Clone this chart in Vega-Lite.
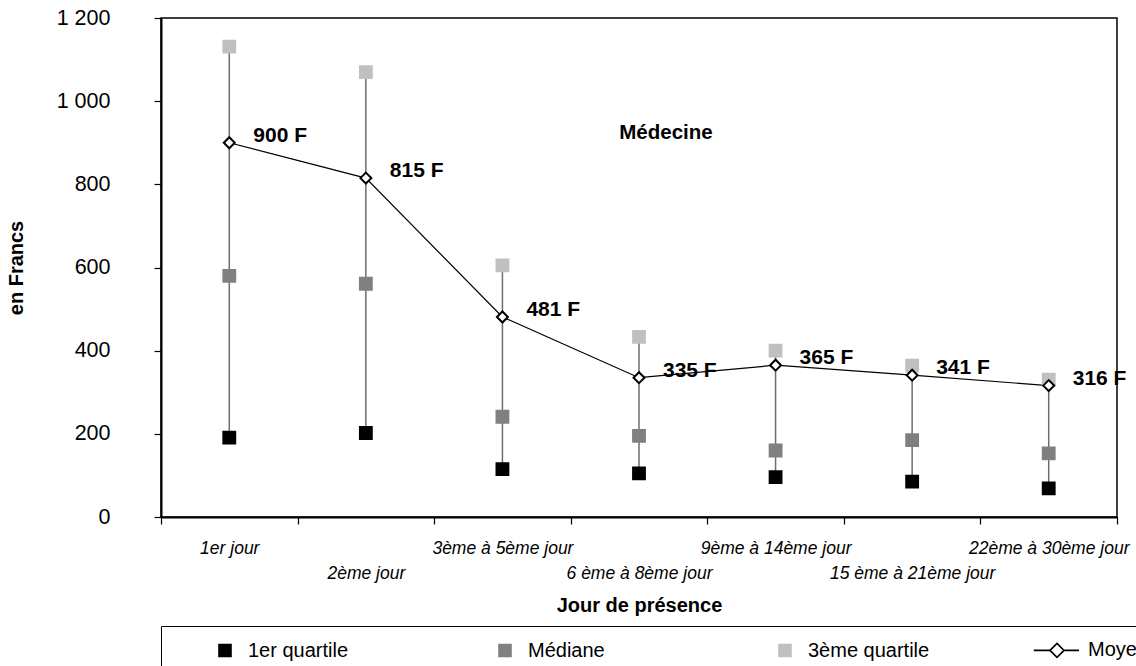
{
  "$schema": "https://vega.github.io/schema/vega-lite/v6.json",
  "width": 956,
  "height": 499,
  "autosize": {"type": "none"},
  "padding": {"left": 161, "top": 18, "right": 19, "bottom": 149},
  "background": "white",
  "config": {
    "font": "Liberation Sans",
    "view": {"stroke": "#000", "strokeWidth": 1.5},
    "axis": {"grid": false, "domainColor": "#000", "domainWidth": 2, "tickColor": "#000", "tickWidth": 1.2, "labelColor": "#000", "titleColor": "#000"},
    "legend": {
      "orient": "bottom", "offset": 10,
      "direction": "horizontal", "columns": 4, "gridAlign": "all",
      "strokeColor": "#000", "padding": 14,
      "titleOrient": "left", "titleFontSize": 2, "titlePadding": 40,
      "symbolSize": 144, "symbolStrokeWidth": 1.6, "labelFontSize": 20, "labelOffset": 13,
      "columnPadding": 100, "labelLimit": 300, "labelColor": "#000"
    }
  },
  "datasets": {
    "stats": [
      {"jour": "1er jour", "1er quartile": 191, "Médiane": 580, "3ème quartile": 1131, "Moyenne": 900, "etiquette": "900 F"},
      {"jour": "2ème jour", "1er quartile": 202, "Médiane": 561, "3ème quartile": 1070, "Moyenne": 815, "etiquette": "815 F"},
      {"jour": "3ème à 5ème jour", "1er quartile": 115, "Médiane": 241, "3ème quartile": 605, "Moyenne": 481, "etiquette": "481 F"},
      {"jour": "6 ème à 8ème jour", "1er quartile": 105, "Médiane": 195, "3ème quartile": 433, "Moyenne": 335, "etiquette": "335 F"},
      {"jour": "9ème à 14ème jour", "1er quartile": 96, "Médiane": 160, "3ème quartile": 400, "Moyenne": 365, "etiquette": "365 F"},
      {"jour": "15 ème à 21ème jour", "1er quartile": 85, "Médiane": 185, "3ème quartile": 364, "Moyenne": 341, "etiquette": "341 F"},
      {"jour": "22ème à 30ème jour", "1er quartile": 69, "Médiane": 153, "3ème quartile": 330, "Moyenne": 316, "etiquette": "316 F"}
    ],
    "annotation": [{"texte": "Médecine"}]
  },
  "data": {"name": "stats"},
  "encoding": {
    "x": {
      "field": "jour", "type": "nominal", "sort": null,
      "scale": {"paddingInner": 0, "paddingOuter": 0},
      "axis": {
        "title": "Jour de présence",
        "titleFontSize": 20, "titleFontWeight": "bold", "titlePadding": 14,
        "labelAngle": 0, "labelFontSize": 17.5, "labelFontStyle": "italic",
        "labelBaseline": "top",
        "labelPadding": {"condition": {"test": "indexof(['2ème jour','6 ème à 8ème jour','15 ème à 21ème jour'], datum.value) >= 0", "value": 40}, "value": 15},
        "tickBand": "extent", "tickSize": 7, "labelLimit": 300
      }
    }
  },
  "layer": [
    {
      "mark": {"type": "rule", "color": "#6e6e6e", "strokeWidth": 1.5},
      "encoding": {
        "y": {"field": "1er quartile", "type": "quantitative", "scale": {"domain": [0, 1200], "nice": false},
          "axis": {"title": "en Francs", "titleFontSize": 20, "titleFontWeight": "bold", "titlePadding": 30,
            "values": [0, 200, 400, 600, 800, 1000, 1200], "labelFontSize": 21.5, "labelPadding": 44, "tickSize": 7,
            "labelExpr": "replace(format(datum.value, ','), ',', ' ')"}},
        "y2": {"field": "3ème quartile"}
      }
    },
    {
      "mark": {"type": "line", "color": "#000", "strokeWidth": 1.2},
      "encoding": {"y": {"field": "Moyenne", "type": "quantitative"}}
    },
    {
      "transform": [
        {"fold": ["1er quartile", "Médiane", "3ème quartile", "Moyenne"], "as": ["serie", "valeur"]},
        {"filter": "datum.serie !== 'Moyenne'"}
      ],
      "mark": {"type": "point", "filled": true, "strokeWidth": 2, "opacity": 1, "size": 140},
      "encoding": {
        "y": {"field": "valeur", "type": "quantitative"},
        "fill": {"field": "serie", "type": "nominal", "title": "\u00a0",
          "scale": {"domain": ["1er quartile", "Médiane", "3ème quartile", "Moyenne"], "range": ["#000000", "#808080", "#c0c0c0", "#ffffff"]}},
        "stroke": {"field": "serie", "type": "nominal", "title": "\u00a0",
          "scale": {"domain": ["1er quartile", "Médiane", "3ème quartile", "Moyenne"], "range": ["#000000", "#808080", "#c0c0c0", "#000000"]}},
        "shape": {"field": "serie", "type": "nominal", "title": "\u00a0",
          "scale": {"domain": ["1er quartile", "Médiane", "3ème quartile", "Moyenne"], "range": ["square", "square", "square", "M-5.2,0H-2.5M-0.16,0H2.33M-2.5,0L-1.33,-1.17L-0.16,0L-1.33,1.17Z"]}}
      }
    },
    {
      "mark": {"type": "point", "shape": "diamond", "filled": true, "fill": "#ffffff", "stroke": "#000000", "strokeWidth": 2, "opacity": 1, "size": 120},
      "encoding": {"y": {"field": "Moyenne", "type": "quantitative"}}
    },
    {
      "mark": {"type": "text", "fontSize": 21, "fontWeight": "bold", "align": "left", "baseline": "middle", "dx": 24, "dy": -7, "color": "#000"},
      "encoding": {"y": {"field": "Moyenne", "type": "quantitative"}, "text": {"field": "etiquette"}}
    },
    {
      "data": {"name": "annotation"},
      "mark": {"type": "text", "fontSize": 20.5, "fontWeight": "bold", "align": "center", "baseline": "middle", "dx": 27, "color": "#000"},
      "encoding": {
        "x": {"datum": "6 ème à 8ème jour"},
        "y": {"datum": 924},
        "text": {"field": "texte"}
      }
    }
  ]
}
